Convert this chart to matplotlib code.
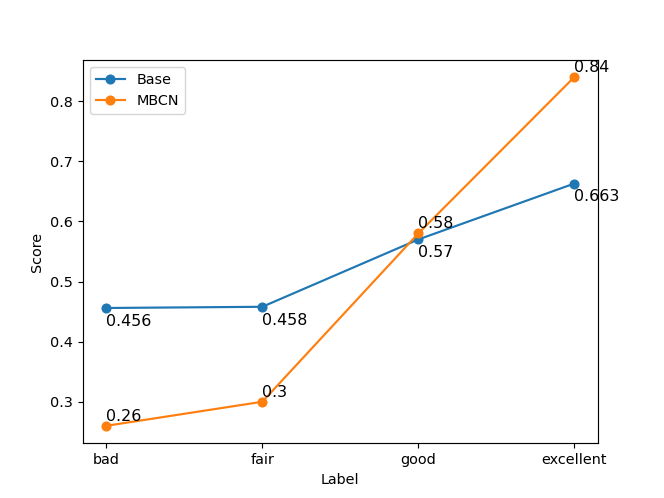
import numpy as np
from matplotlib import pyplot as plt

labels = ['bad', 'fair', 'good', 'excellent']
base   = [0.456, 0.458, 0.57, 0.663]
mbcn   = [0.26, 0.3, 0.58, 0.84]

fig = plt.figure(figsize=(6.4, 4.8), dpi=103.75)
ax = fig.add_subplot(111)
ax.plot(labels, base, marker='o', label='Base')
ax.plot(labels, mbcn, marker='o', label='MBCN')

for i, v in enumerate(base):
    ax.annotate(str(v), (i, v), xytext=(0, -4), textcoords='offset points',
                ha='left', va='top', fontsize=11)
for i, v in enumerate(mbcn):
    ax.annotate(str(v), (i, v), xytext=(0, 1.5), textcoords='offset points',
                ha='left', va='bottom', fontsize=11)

ax.set_xlabel('Label')
ax.set_ylabel('Score')
ax.legend(loc='upper left')
fig.savefig('out.png', dpi=103.75)
